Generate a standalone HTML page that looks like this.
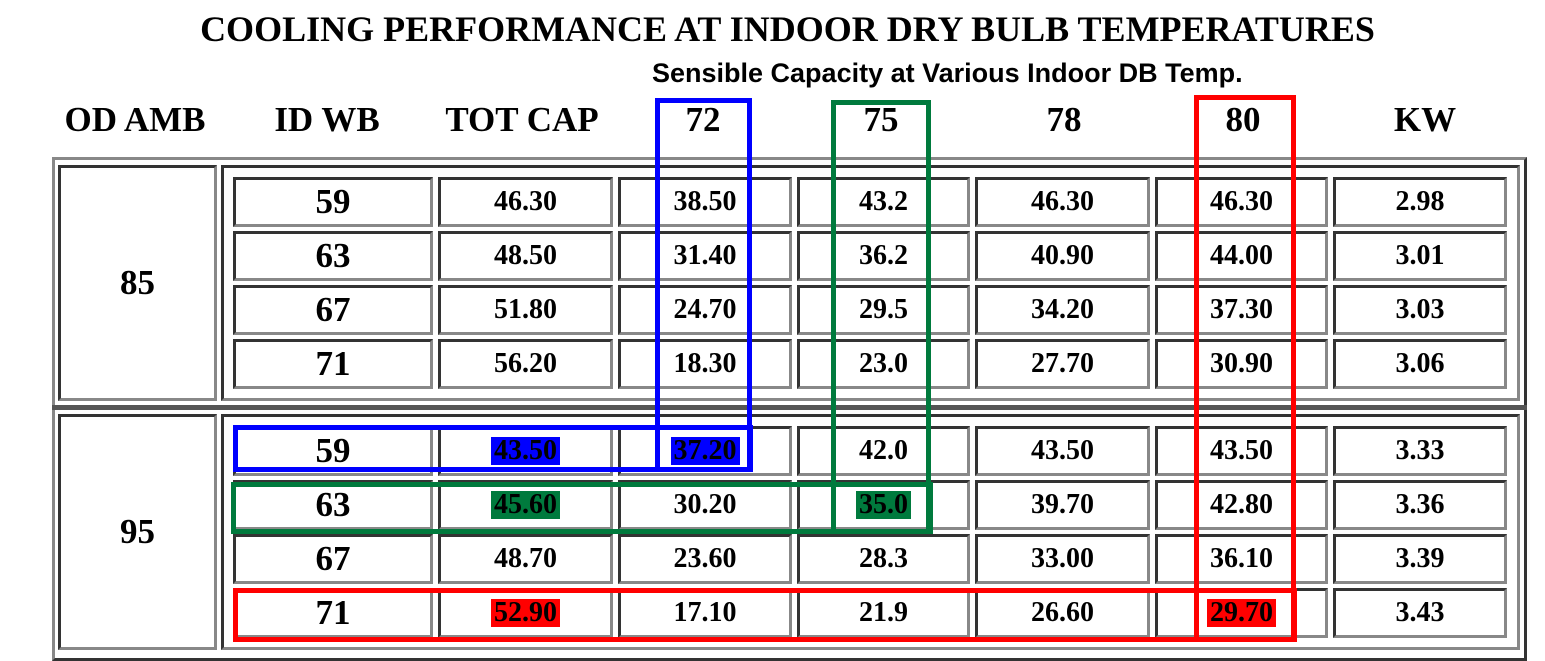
<!DOCTYPE html>
<html><head><meta charset="utf-8">
<style>
body{margin:0;width:1545px;height:661px;background:#fff;position:relative;overflow:hidden;font-family:"Liberation Serif",serif;}
.a{position:absolute;box-sizing:border-box;}
.t{position:absolute;font-weight:bold;text-align:center;white-space:nowrap;}
.box{position:absolute;box-sizing:border-box;border-style:solid;border-width:3px;border-color:#333 #888 #888 #333;}
.obox{position:absolute;box-sizing:border-box;border-style:solid;border-width:3px;border-color:#888 #333 #333 #888;}
.cell{display:flex;align-items:center;justify-content:center;font-weight:bold;font-size:28px;}
.hl{position:absolute;box-sizing:border-box;border:5px solid;}
.bg{padding:0 3px;line-height:28px;}
</style></head><body>
<div class="t" style="left:0;width:1575px;top:8px;font-size:36px;">COOLING PERFORMANCE AT INDOOR DRY BULB TEMPERATURES</div>
<div class="t" style="left:652px;top:58px;font-size:27px;text-align:left;font-family:'Liberation Sans',sans-serif;">Sensible Capacity at Various Indoor DB Temp.</div>
<div id="root"></div>
<script>
const headers=["OD AMB","ID WB","TOT CAP","72","75","78","80","KW"];
const headerX=[135,327,522,703,881,1064,1243,1425];
const ambients=["85","95"];
const wetBulbs=["59","63","67","71"];
const totCap=[["46.30","48.50","51.80","56.20"],["43.50","45.60","48.70","52.90"]];
const sens72=[["38.50","31.40","24.70","18.30"],["37.20","30.20","23.60","17.10"]];
const sens75=[["43.2","36.2","29.5","23.0"],["42.0","35.0","28.3","21.9"]];
const sens78=[["46.30","40.90","34.20","27.70"],["43.50","39.70","33.00","26.60"]];
const sens80=[["46.30","44.00","37.30","30.90"],["43.50","42.80","36.10","29.70"]];
const kw=[["2.98","3.01","3.03","3.06"],["3.33","3.36","3.39","3.43"]];
const colL=[233,438,618,797,975,1155,1333];
const colR=[433,613,792,970,1150,1328,1507];
const highlights={"1-0-1":"#0000ff","1-0-2":"#0000ff","1-1-1":"#007a3d","1-1-3":"#007a3d","1-3-1":"#ff0000","1-3-5":"#ff0000"};
const root=document.getElementById('root');
function mk(cls,l,t,w,h){const d=document.createElement('div');d.className=cls;d.style.left=l+'px';d.style.top=t+'px';d.style.width=w+'px';d.style.height=h+'px';root.appendChild(d);return d;}
headers.forEach((h,i)=>{
 const d=mk('t',headerX[i]-120,100,240,42);
 d.style.fontSize='35px';d.textContent=h;
 
 
});
const outer=mk('obox',52,157,1475,504);


const sep=mk('a',52,405,1475,5);sep.style.background='#555';


const tops=[165,414];
ambients.forEach((amb,b)=>{
 const y0=tops[b];
 const a=mk('box cell',58,y0,159,236);
 a.style.fontSize='35px';a.textContent=amb;
 
 
 const inner=mk('box',221,y0,1299,236);
 
 
 wetBulbs.forEach((wb,r)=>{
  const vals=[wb,totCap[b][r],sens72[b][r],sens75[b][r],sens78[b][r],sens80[b][r],kw[b][r]];
  const y=y0+12+r*54;
  vals.forEach((v,c)=>{
   const cell=mk('box cell',colL[c],y,colR[c]-colL[c],50);
   if(c===0)cell.style.fontSize='35px';
   const key=b+'-'+r+'-'+c;
   if(highlights[key]){const s=document.createElement('span');s.className='bg';s.style.background=highlights[key];s.textContent=v;cell.appendChild(s);}
   else cell.textContent=v;
   
   
  });
 });
});
const rects=[["#0000ff",655,98,97,374,"blue-col-72"],["#0000ff",233,425,520,47,"blue-row-59"],
["#007a3d",831,100,100,434,"green-col-75"],["#007a3d",231,482,702,52,"green-row-63"],
["#ff0000",1194,95,102,547,"red-col-80"],["#ff0000",233,588,1064,54,"red-row-71"]];
rects.forEach(q=>{
 const h=mk('hl',q[1],q[2],q[3],q[4]);h.style.borderColor=q[0];
 
 
});
</script>
</body></html>
